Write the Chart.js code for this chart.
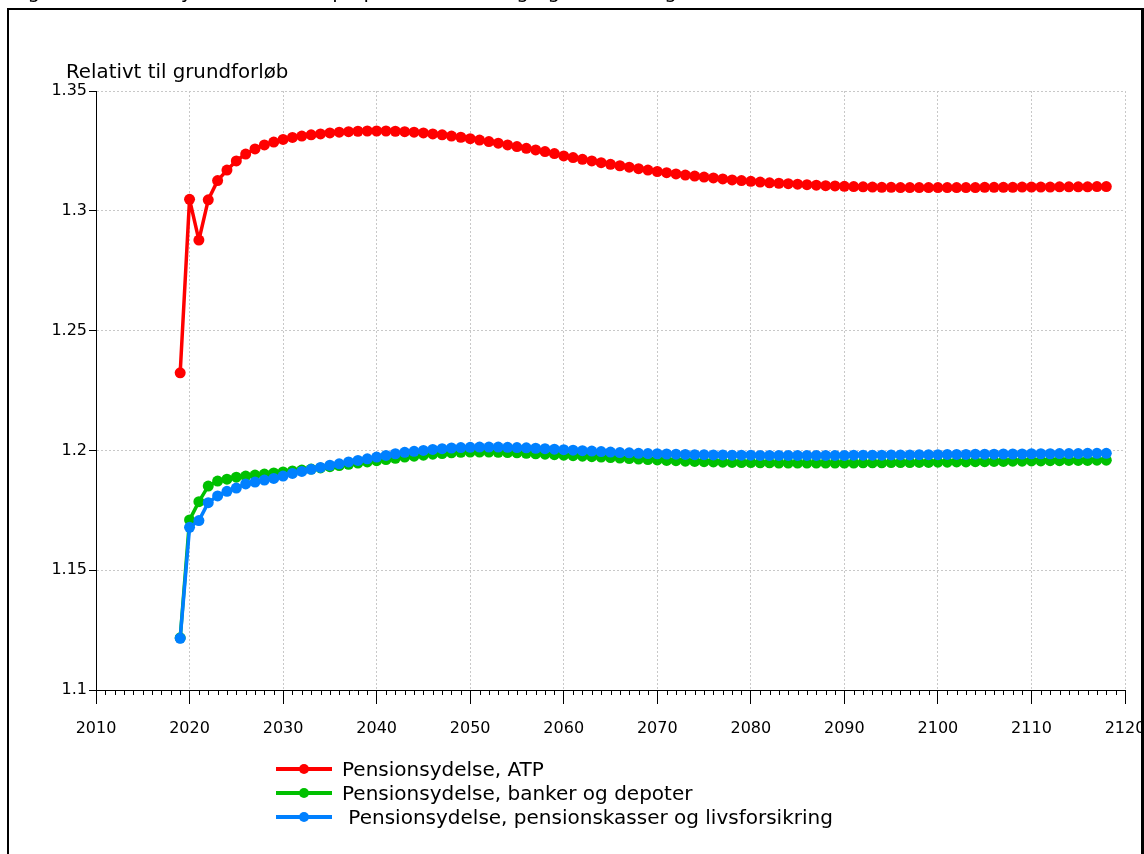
<!DOCTYPE html>
<html><head><meta charset="utf-8">
<script src="https://cdn.jsdelivr.net/npm/chart.js@4/dist/chart.umd.min.js"></script>
<style>
html,body{margin:0;padding:0;background:#fff;overflow:hidden;width:1144px;height:854px;}
#wrap{position:relative;width:1144px;height:854px;overflow:hidden;font-family:"DejaVu Sans",Verdana,sans-serif;color:#000;}
#c{position:absolute;left:0;top:0;}
#topTitle{position:absolute;left:12px;top:-21px;font-size:20px;line-height:24px;white-space:pre;}
#frame{position:absolute;left:7px;top:8px;width:1200px;height:900px;border:2px solid #000;box-sizing:border-box;pointer-events:none;}
#rborder{position:absolute;left:1141px;top:8px;width:3px;height:846px;background:#000;}
#ytitle{position:absolute;left:66px;top:60px;font-size:19.8px;line-height:24px;white-space:pre;}
#legend{position:absolute;left:276px;top:757px;}
.row{position:relative;height:24px;width:600px;}
.ln{position:absolute;left:0;top:10px;width:56px;height:4px;}
.dt{position:absolute;left:23px;top:7px;width:10px;height:10px;border-radius:50%;}
.tx{position:absolute;left:66px;top:0;font-size:20px;line-height:24px;white-space:pre;}
</style></head>
<body><div id="wrap">
<canvas id="c" width="1144" height="854"></canvas>
<div id="topTitle">Figur 4, Pensionsydelser fordelt på pensionsordning og beskatning</div>
<div id="frame"></div><div id="rborder"></div>
<div id="ytitle">Relativt til grundforløb</div>
<div id="legend"></div>
</div>
<script>
const years = [2019,2020,2021,2022,2023,2024,2025,2026,2027,2028,2029,2030,2031,2032,2033,2034,2035,2036,2037,2038,2039,2040,2041,2042,2043,2044,2045,2046,2047,2048,2049,2050,2051,2052,2053,2054,2055,2056,2057,2058,2059,2060,2061,2062,2063,2064,2065,2066,2067,2068,2069,2070,2071,2072,2073,2074,2075,2076,2077,2078,2079,2080,2081,2082,2083,2084,2085,2086,2087,2088,2089,2090,2091,2092,2093,2094,2095,2096,2097,2098,2099,2100,2101,2102,2103,2104,2105,2106,2107,2108,2109,2110,2111,2112,2113,2114,2115,2116,2117,2118];

const atp = [1.2324,1.3048,1.2878,1.3046,1.3126,1.3170,1.3208,1.3237,1.3258,1.3275,1.3287,1.3298,1.3306,1.3312,1.3317,1.3321,1.3325,1.3328,1.3330,1.3332,1.3333,1.3333,1.3333,1.3332,1.3330,1.3328,1.3325,1.3321,1.3317,1.3312,1.3307,1.3301,1.3295,1.3289,1.3282,1.3275,1.3268,1.3261,1.3254,1.3247,1.3239,1.3229,1.3222,1.3215,1.3208,1.3201,1.3194,1.3188,1.3182,1.3176,1.3170,1.3164,1.3159,1.3154,1.3149,1.3145,1.3141,1.3137,1.3133,1.3129,1.3126,1.3123,1.3120,1.3117,1.3115,1.3113,1.3111,1.3109,1.3107,1.3105,1.3104,1.3102,1.3101,1.3100,1.3099,1.3098,1.3098,1.3097,1.3097,1.3097,1.3097,1.3097,1.3097,1.3097,1.3097,1.3097,1.3098,1.3098,1.3098,1.3098,1.3099,1.3099,1.3099,1.3099,1.3100,1.3100,1.3100,1.3100,1.3101,1.3101];

const banker = [1.1218,1.1710,1.1786,1.1851,1.1872,1.1880,1.1888,1.1893,1.1897,1.1901,1.1906,1.1910,1.1914,1.1918,1.1922,1.1927,1.1932,1.1937,1.1942,1.1947,1.1952,1.1957,1.1962,1.1967,1.1972,1.1976,1.1980,1.1984,1.1987,1.1990,1.1992,1.1993,1.1993,1.1993,1.1992,1.1991,1.1990,1.1988,1.1986,1.1984,1.1982,1.1980,1.1978,1.1976,1.1974,1.1972,1.1970,1.1968,1.1966,1.1964,1.1962,1.1960,1.1958,1.1957,1.1955,1.1954,1.1953,1.1952,1.1951,1.1950,1.1949,1.1949,1.1948,1.1948,1.1947,1.1947,1.1947,1.1947,1.1947,1.1947,1.1947,1.1947,1.1947,1.1948,1.1948,1.1948,1.1949,1.1949,1.1949,1.1950,1.1950,1.1951,1.1951,1.1952,1.1952,1.1953,1.1953,1.1954,1.1954,1.1955,1.1955,1.1956,1.1956,1.1957,1.1957,1.1958,1.1958,1.1958,1.1959,1.1959];

const pensionskasser = [1.1216,1.1679,1.1707,1.1782,1.1810,1.1829,1.1843,1.1860,1.1868,1.1876,1.1883,1.1893,1.1904,1.1912,1.1921,1.1929,1.1938,1.1944,1.1952,1.1958,1.1965,1.1972,1.1979,1.1986,1.1992,1.1996,1.2000,1.2004,1.2007,1.2010,1.2012,1.2013,1.2014,1.2014,1.2014,1.2013,1.2012,1.2011,1.2009,1.2007,1.2005,1.2003,1.2001,1.1999,1.1997,1.1995,1.1993,1.1991,1.1990,1.1988,1.1987,1.1986,1.1985,1.1984,1.1983,1.1982,1.1982,1.1981,1.1981,1.1980,1.1980,1.1980,1.1979,1.1979,1.1979,1.1979,1.1979,1.1979,1.1979,1.1979,1.1979,1.1979,1.1980,1.1980,1.1980,1.1980,1.1981,1.1981,1.1981,1.1982,1.1982,1.1982,1.1983,1.1983,1.1983,1.1984,1.1984,1.1984,1.1985,1.1985,1.1985,1.1986,1.1986,1.1986,1.1987,1.1987,1.1987,1.1988,1.1988,1.1988];

const seriesNames = ['Pensionsydelse, ATP','Pensionsydelse, banker og depoter',' Pensionsydelse, pensionskasser og livsforsikring'];
const seriesColors = ['#ff0000','#00c000','#0080ff'];
const xTickValues = [2010,2020,2030,2040,2050,2060,2070,2080,2090,2100,2110,2120];
const xTickLabels = ['2010','2020','2030','2040','2050','2060','2070','2080','2090','2100','2110','2120'];
const yTickValues = [1.1,1.15,1.2,1.25,1.3,1.35];
const yTickLabels = ['1.1','1.15','1.2','1.25','1.3','1.35'];

const seriesValues = [atp, banker, pensionskasser];
const toPts = arr => years.map((yr,i)=>({x:yr,y:arr[i]}));

const lg = document.getElementById('legend');
seriesNames.forEach((n,i)=>{
  const r=document.createElement('div'); r.className='row';
  r.innerHTML='<span class="ln" style="background:'+seriesColors[i]+'"></span><span class="dt" style="background:'+seriesColors[i]+'"></span><span class="tx"></span>';
  r.querySelector('.tx').textContent=n;
  lg.appendChild(r);
});

const minorTicks = {
  id:'minorTicks',
  afterDraw(chart){
    const s=chart.scales.x, ctx=chart.ctx, y0=s.top;
    ctx.save(); ctx.strokeStyle='#000'; ctx.lineWidth=1;
    s.ticks.forEach(t=>{
      if (xTickValues.indexOf(t.value) < 0) {
        const px=Math.round(s.getPixelForValue(t.value))+0.5;
        ctx.beginPath(); ctx.moveTo(px,y0); ctx.lineTo(px,y0+5); ctx.stroke();
      }
    });
    ctx.restore();
  }
};

const datasets = seriesValues.map((arr,i)=>({
  label: seriesNames[i],
  data: toPts(arr),
  borderColor: seriesColors[i],
  backgroundColor: seriesColors[i],
  pointBackgroundColor: seriesColors[i],
  pointBorderWidth: 0,
  pointRadius: 5.5,
  pointHoverRadius: 5.5,
  borderWidth: 3.5,
  borderJoinStyle: 'round',
  borderCapStyle: 'round',
  tension: 0,
  fill: false,
  order: 2 - i
}));

new Chart(document.getElementById('c'), {
  type:'line',
  data:{datasets},
  plugins:[minorTicks],
  options:{
    responsive:false,
    animation:false,
    events:[],
    layout:{autoPadding:false, padding:{left:0,top:91,right:19,bottom:0}},
    plugins:{legend:{display:false},tooltip:{enabled:false},title:{display:false}},
    scales:{
      x:{
        type:'linear', min:2010, max:2120,
        afterFit: s => { s.height = 164; s.paddingLeft = 0; s.paddingRight = 0; },
        ticks:{
          stepSize:1, autoSkip:false, maxRotation:0, minRotation:0,
          padding:15, color:'#000',
          font:{family:'"DejaVu Sans", Verdana, sans-serif', size:16},
          callback: v => { const i=xTickValues.indexOf(v); return i>=0 ? xTickLabels[i] : ''; }
        },
        grid:{
          color: c => (c.tick && xTickValues.indexOf(c.tick.value)>=0) ? '#c8c8c8' : 'rgba(0,0,0,0)',
          tickColor: c => (c.tick && xTickValues.indexOf(c.tick.value)>=0) ? '#000' : 'rgba(0,0,0,0)',
          tickLength:14, lineWidth:1, drawTicks:true
        },
        border:{display:true,color:'#000',width:1,dash:[2,2]}
      },
      y:{
        type:'linear', min:1.1, max:1.35,
        afterFit: s => { s.width = 96; s.paddingTop = 0; s.paddingBottom = 0; },
        afterBuildTicks: s => { s.ticks = yTickValues.map(v=>({value:v})); },
        ticks:{
          padding:2, color:'#000',
          font:{family:'"DejaVu Sans", Verdana, sans-serif', size:16},
          callback: v => { const i=yTickValues.findIndex(t=>Math.abs(t-v)<1e-9); return i>=0 ? yTickLabels[i] : ''; }
        },
        grid:{color:'#c8c8c8', tickColor:'#000', tickLength:7, lineWidth:1},
        border:{display:true,color:'#000',width:1,dash:[2,2]}
      }
    }
  }
});
</script>
</body></html>
